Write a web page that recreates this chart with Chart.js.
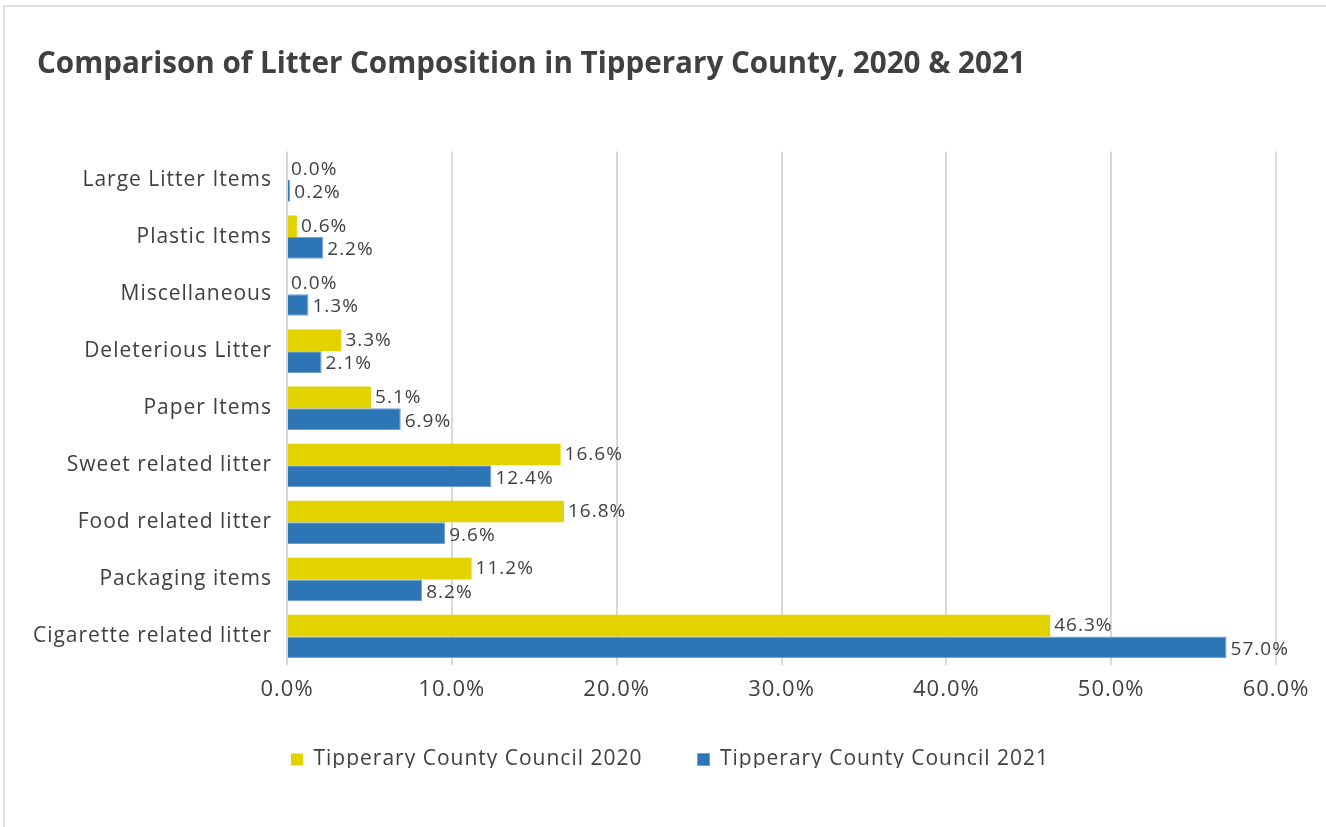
<!DOCTYPE html>
<html>
<head>
<meta charset="utf-8">
<script src="https://cdn.jsdelivr.net/npm/chart.js@4/dist/chart.umd.min.js"></script>
<style>
  html, body { margin: 0; padding: 0; background: #fff; }
  #wrap { position: absolute; left: 0; top: 0; width: 1326px; height: 827px; }
  #frame { position: absolute; left: 3px; top: 5px; right: -4px; bottom: -4px; border: 2px solid #e2e2de; }
</style>
</head>
<body>
<div id="wrap">
  <div id="frame"></div>
  <canvas id="litterChart" width="1326" height="827"></canvas>
</div>
<script>
// categories top to bottom
const categories = [
    'Large Litter Items',
    'Plastic Items',
    'Miscellaneous',
    'Deleterious Litter',
    'Paper Items',
    'Sweet related litter',
    'Food related litter',
    'Packaging items',
    'Cigarette related litter'
];
const seriesNames = ['Tipperary County Council 2020', 'Tipperary County Council 2021'];
const values2020 = [0.0, 0.6, 0.0, 3.3, 5.1, 16.6, 16.8, 11.2, 46.3];
const values2021 = [0.2, 2.2, 1.3, 2.1, 6.9, 12.4, 9.6, 8.2, 57.0];
const xMax = 60;
const xStep = 10;

const textColor = '#404040';
const fontFamily = "'Open Sans', 'Liberation Sans', sans-serif";

// the original font is spaced a bit wider, except the title
const spacing = {
    id: 'spacing',
    beforeInit(chart) { chart.ctx.letterSpacing = '1px'; },
    beforeUpdate(chart) { chart.ctx.letterSpacing = '1px'; },
    beforeDraw(chart) { chart.ctx.letterSpacing = '1px'; },
    afterLayout(chart) {
        const title = chart.titleBlock;
        title.left = 37;
        const drawTitle = title.draw;
        title.draw = function () {
            chart.ctx.save();
            chart.ctx.letterSpacing = '0px';
            drawTitle.apply(this, arguments);
            chart.ctx.restore();
        };
        // wider gap between legend entries, nudged right and up
        const legend = chart.legend;
        legend.options.labels.padding = 55;
        legend.left += 10;
        legend.right += 10;
        legend.top -= 11;
        legend.bottom -= 11;
    }
};

// value labels at the end of each bar
const barLabels = {
    id: 'barLabels',
    afterDatasetsDraw(chart) {
        const ctx = chart.ctx;
        ctx.save();
        ctx.font = '19px ' + fontFamily;
        ctx.fillStyle = textColor;
        ctx.textAlign = 'left';
        ctx.textBaseline = 'middle';
        chart.data.datasets.forEach((ds, i) => {
            const meta = chart.getDatasetMeta(i);
            meta.data.forEach((bar, j) => {
                ctx.fillText(ds.data[j].toFixed(1) + '%', bar.x + 4, bar.y + (i === 1 ? 2 : 0));
            });
        });
        ctx.restore();
    }
};

Chart.defaults.font.family = fontFamily;
Chart.defaults.color = textColor;

const ctx = document.getElementById('litterChart').getContext('2d');
const chart = new Chart(ctx, {
    type: 'bar',
    data: {
        labels: categories,
        datasets: [{
            label: seriesNames[0],
            data: values2020,
            backgroundColor: '#e2d300',
            borderWidth: 0,
            categoryPercentage: 0.76,
            barPercentage: 1.0
        }, {
            label: seriesNames[1],
            data: values2021,
            backgroundColor: '#2e75b6',
            borderColor: '#6fa0d4',
            borderWidth: 1,
            categoryPercentage: 0.76,
            barPercentage: 1.0
        }]
    },
    options: {
        indexAxis: 'y',
        responsive: false,
        animation: false,
        layout: {
            padding: { left: 20, right: 50, top: 30, bottom: 48 }
        },
        scales: {
            x: {
                min: 0,
                max: xMax,
                ticks: {
                    stepSize: xStep,
                    padding: 12,
                    color: textColor,
                    font: { size: 22 },
                    callback: v => v.toFixed(1) + '%'
                },
                grid: {
                    color: '#d9d9d9',
                    lineWidth: 2,
                    drawTicks: false
                },
                border: { display: false },
                afterFit: scale => { scale.height = 40; }
            },
            y: {
                ticks: {
                    padding: 7,
                    color: textColor,
                    font: { size: 21 }
                },
                grid: { display: false },
                border: { display: false },
                afterFit: scale => { scale.width = 267; }
            }
        },
        plugins: {
            title: {
                display: true,
                text: 'Comparison of Litter Composition in Tipperary County, 2020 & 2021',
                align: 'start',
                color: textColor,
                font: { size: 29.6, weight: 'bold', lineHeight: 1.2 },
                padding: { top: 17, bottom: 69 }
            },
            legend: {
                position: 'bottom',
                labels: {
                    boxWidth: 12,
                    boxHeight: 12,
                    padding: 43,
                    color: textColor,
                    font: { size: 21 }
                }
            },
            tooltip: { enabled: false }
        }
    },
    plugins: [spacing, barLabels]
});
</script>
</body>
</html>
